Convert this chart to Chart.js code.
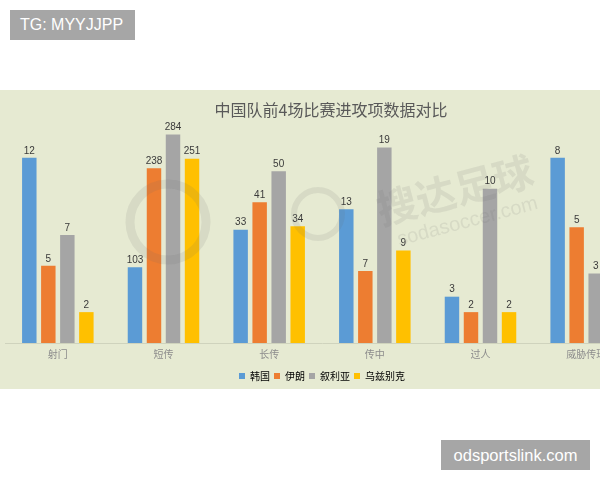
<!DOCTYPE html>
<html>
<head>
<meta charset="utf-8">
<script src="https://cdn.jsdelivr.net/npm/chart.js@4/dist/chart.umd.min.js"></script>
<style>
  html, body { margin: 0; padding: 0; background: #fff; width: 600px; height: 480px; overflow: hidden; }
  #wrap { position: absolute; left: 0; top: 90px; width: 600px; height: 299px; overflow: hidden; background: #e6ead2; }
  #wrap canvas { position: absolute; left: 0; top: 0; }
  .tag { position: absolute; background: #a6a6a6; color: #fff; font-family: "Liberation Sans", Arial, sans-serif; height: 30px; line-height: 30px; }
  #tg { left: 10px; top: 10px; width: 115px; padding-left: 10px; font-size: 16px; }
  #site { left: 441px; top: 440px; width: 149px; text-align: center; font-size: 16.5px; }
</style>
</head>
<body>
<div id="wrap"><canvas id="chart" width="640" height="305"></canvas></div>
<div class="tag" id="tg">TG: MYYJJPP</div>
<div class="tag" id="site">odsportslink.com</div>
<script>
const title = "中国队前4场比赛进攻项数据对比";
const categories = ["射门", "短传", "长传", "传中", "过人", "威胁传球"];
const seriesNames = ["韩国", "伊朗", "叙利亚", "乌兹别克"];
const korea = [12, 103, 33, 13, 3, 8];
const iran = [5, 238, 41, 7, 2, 5];
const syria = [7, 284, 50, 19, 10, 3];
const uzbek = [2, 251, 34, 9, 2, 4]; // last one is cut off in the picture
// each category in the original has its own vertical scale
const axisMax = [13.8, 290, 62, 20.7, 13.8, 9.2];

const series = [korea, iran, syria, uzbek];
const colors = ["#5b9bd5", "#ed7d31", "#a5a5a5", "#ffc000"];
const cjk = '"Noto Sans CJK SC", sans-serif';

// one dataset per category and team, so every category can sit on its own y axis
let datasets = [], scales = {};
categories.forEach((cat, c) => {
    series.forEach((vals, s) => {
        let data = categories.map(() => null);
        data[c] = vals[c];
        datasets.push({
            label: seriesNames[s],
            data: data,
            backgroundColor: colors[s],
            yAxisID: "y" + c,
            categoryPercentage: 0.72,
            barPercentage: 0.76,
            skipNull: true
        });
    });
    scales["y" + c] = {display: false, min: 0, max: axisMax[c]};
});
scales.x = {
    grid: {display: false, drawTicks: false},
    border: {display: true, color: "#cfd3bd"},
    ticks: {color: "#8c8c8c", font: {family: cjk, size: 10}, padding: 5},
    afterFit: (scale)=> { scale.height = 24; }
};

const valueLabels = {
    id: "valueLabels",
    afterDatasetsDraw(chart) {
        const ctx = chart.ctx;
        ctx.save();
        ctx.font = '10px "Liberation Sans", sans-serif';
        ctx.fillStyle = "#3a3a3a";
        ctx.textAlign = "center";
        ctx.textBaseline = "bottom";
        chart.data.datasets.forEach((ds, i) => {
            chart.getDatasetMeta(i).data.forEach((bar, j) => {
                if(ds.data[j] == null)
                    return;
                ctx.fillText(ds.data[j], bar.x, bar.y - 2);
            });
        });
        ctx.restore();
    }
};

const titleAndMark = {
    id: "titleAndMark",
    afterDraw(chart) {
        const ctx = chart.ctx, area = chart.chartArea;
        ctx.save();
        ctx.font = "16px " + cjk;
        ctx.fillStyle = "#595959";
        ctx.textAlign = "center";
        ctx.textBaseline = "middle";
        ctx.fillText(title, (area.left + area.right) / 2 + 9, 20);

        // faint site watermark
        ctx.globalAlpha = 0.12;
        ctx.strokeStyle = "#6e6e6e";
        ctx.lineWidth = 9;
        ctx.beginPath(); ctx.arc(168, 132, 38, 0, Math.PI * 2); ctx.stroke();
        ctx.lineWidth = 6;
        ctx.beginPath(); ctx.arc(318, 124, 24, 0, Math.PI * 2); ctx.stroke();
        ctx.translate(455, 100);
        ctx.rotate(-0.26);
        ctx.fillStyle = "#6e6e6e";
        ctx.font = "bold 40px " + cjk;
        ctx.fillText("搜达足球", 0, 0);
        ctx.font = "20px \"Liberation Sans\", sans-serif";
        ctx.fillText("sodasoccer.com", 4, 34);
        ctx.restore();
    }
};

window.onload = ()=> {
    new Chart("chart", {
        type: "bar",
        data: {labels: categories, datasets: datasets},
        options: {
            responsive: false,
            animation: false,
            layout: {padding: {left: 5, right: 1, top: 40, bottom: 4}},
            scales: scales,
            plugins: {
                tooltip: {enabled: false},
                legend: {
                    position: "bottom",
                    labels: {
                        boxWidth: 6,
                        boxHeight: 6,
                        padding: 4,
                        color: "#595959",
                        font: {family: cjk, size: 10},
                        generateLabels: ()=> seriesNames.map((n, i) => ({
                            text: n, fillStyle: colors[i], strokeStyle: colors[i],
                            lineWidth: 0, hidden: false, datasetIndex: i
                        }))
                    }
                }
            }
        },
        plugins: [valueLabels, titleAndMark]
    });
};
</script>
</body>
</html>
